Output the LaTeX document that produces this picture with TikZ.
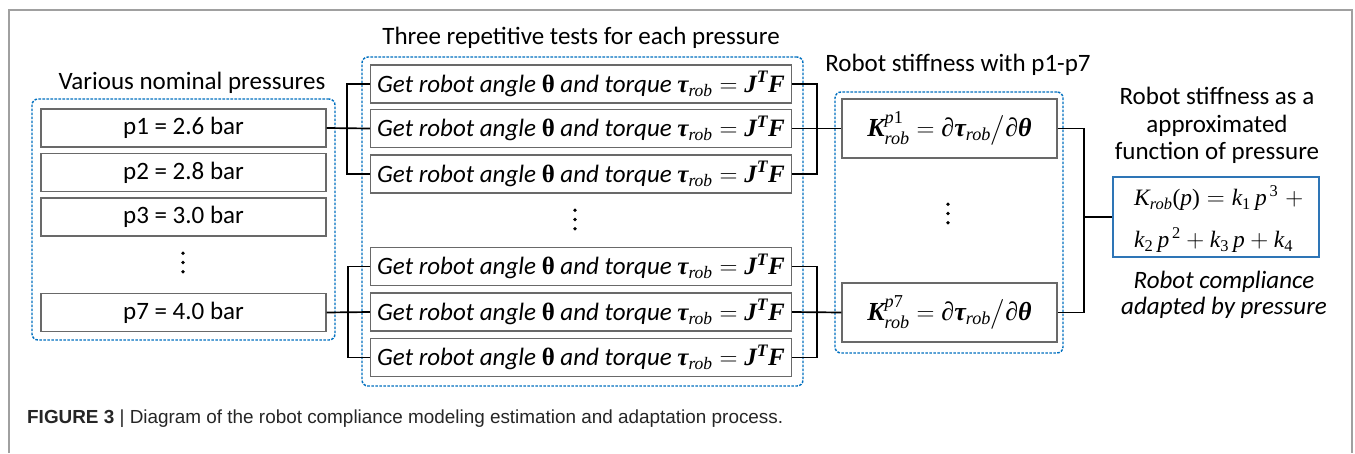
\documentclass[tikz,border=0pt]{standalone}
\usepackage{amsmath}
\usepackage{fontspec}
\setmainfont{Carlito}
\newfontfamily\capfont{Liberation Sans}
\newfontfamily\tnr{Liberation Serif}
\newcommand{\tbi}[1]{\text{\tnr\bfseries\itshape #1}}
\newcommand{\tbu}[1]{\text{\tnr\bfseries\upshape #1}}
\newcommand{\tii}[1]{\text{\tnr\mdseries\itshape #1}}
\newcommand{\trr}[1]{\text{\tnr\mdseries\upshape #1}}
\definecolor{dashblue}{RGB}{0,112,192}
\definecolor{boxblue}{RGB}{46,117,182}
\definecolor{boxgray}{RGB}{105,105,105}
\definecolor{framegray}{RGB}{160,160,160}
\newcommand{\getline}{\itshape Get robot angle \tbu{θ} and torque $\tbi{τ}_{\tii{rob}}=\tbi{J}^{\tbi{T}}\tbi{F}$}
\tikzset{
  x=1pt, y=-1pt,
  big/.style={font=\fontsize{25}{28}\selectfont},
  pbox/.style={draw=boxgray, line width=1.2pt, fill=white, minimum width=285, minimum height=38, inner sep=0pt, big},
  gbox/.style={pbox, minimum width=421},
  kbox/.style={pbox, minimum width=215, minimum height=59, font=\fontsize{26}{28}\selectfont},
  fbox/.style={draw=boxblue, line width=2pt, minimum width=206, minimum height=80, inner sep=0pt},
  grp/.style={draw=dashblue, line width=1.4pt, dash pattern=on 2.6pt off 1.4pt, rounded corners=6pt, inner sep=0pt},
  conn/.style={draw=black, line width=1.7pt},
  lbl/.style={big, inner sep=0pt, align=center},
  dotc/.style={coordinate}
}
\begin{document}
\begin{tikzpicture}
\useasboundingbox (0,0) rectangle (1355,453);
\fill[white] (0,0) rectangle (1355,453);
% outer frame
\draw[framegray, line width=1.5pt] (9,453) -- (9,10) -- (1352,10) -- (1352,453);

% group frames
\node[grp, minimum width=303, minimum height=241] (gL) at (183.5,219.5) {};
\node[grp, minimum width=441, minimum height=329] (gM) at (582.5,221.5) {};
\node[grp, minimum width=228, minimum height=261] (gK) at (949,222.5) {};

% titles
\node[lbl] (tL) at (192,83) {Various nominal pressures};
\node[lbl] (tM) at (581,38) {Three repetitive tests for each pressure};
\node[lbl] (tK) at (958,65) {Robot stiffness with p1-p7};
\node[lbl, font=\fontsize{25}{27.5}\selectfont] (tF) at (1217,125.5) {Robot stiffness as a\\approximated\\function of pressure};
\node[lbl, font=\fontsize{25}{26}\selectfont\itshape] (tC) at (1224,295) {Robot compliance\\adapted by pressure};

% pressure boxes
\node[pbox] (p1) at (183.5,128) {p1 = 2.6 bar};
\node[pbox] (p2) at (183.5,172.5) {p2 = 2.8 bar};
\node[pbox] (p3) at (183.5,217) {p3 = 3.0 bar};
\node[dotc] (pd) at (183,262.5) {};
\node[pbox] (p7) at (183.5,312.5) {p7 = 4.0 bar};

% test boxes
\node[gbox] (b1) at (581,84) {\getline};
\node[gbox] (b2) at (581,128.5) {\getline};
\node[gbox] (b3) at (581,174) {\getline};
\node[dotc] (bd) at (575,219.5) {};
\node[gbox] (b4) at (581,266.5) {\getline};
\node[gbox] (b5) at (581,312) {\getline};
\node[gbox] (b6) at (581,357.5) {\getline};

% stiffness boxes
\node[kbox] (k1) at (949.5,128.5) {$\tbi{K}^{\tii{p}\trr{1}}_{\tii{rob}}=\trr{∂}\tbi{τ}_{\tii{rob}}\big/\trr{∂}\tbi{θ}$};
\node[dotc] (kd) at (948,213.5) {};
\node[kbox] (k7) at (949.5,312.5) {$\tbi{K}^{\tii{p}\trr{7}}_{\tii{rob}}=\trr{∂}\tbi{τ}_{\tii{rob}}\big/\trr{∂}\tbi{θ}$};

% vertical ellipses
\foreach \c in {pd,bd,kd} {
  \foreach \d in {-9.2,0,9.2} \fill (\c) ++(0,\d) circle (1.9);
}

% final box
\node[fbox] (fb) at (1216,217) {};
\node[anchor=west, align=left, inner sep=0pt, font=\fontsize{23.5}{42}\selectfont] (fe) at (1134,219) {$\tii{K}_{\tii{rob}}\trr{(}\tii{p}\trr{)}=\tii{k}_{\trr{1}}\,\tii{p}^{\,\trr{3}}\;+$\\$\tii{k}_{\trr{2}}\,\tii{p}^{\,\trr{2}}+\tii{k}_{\trr{3}}\,\tii{p}+\tii{k}_{\trr{4}}$};

% junctions
\coordinate (j1) at (347,128);
\coordinate (j2) at (348,312);
\coordinate (j3) at (817,128);
\coordinate (j4) at (817,312);
\coordinate (j5) at (1084,217);

% connectors left
\draw[conn] (p1.east) -- (b2.west);
\draw[conn] (b1.west) -- (b1.west -| j1) -- (b3.west -| j1) -- (b3.west);
\draw[conn] (p7.east) -- (b5.west);
\draw[conn] (b4.west) -- (b4.west -| j2) -- (b6.west -| j2) -- (b6.west);
% connectors middle
\draw[conn] (b2.east) -- (k1.west);
\draw[conn] (b1.east) -- (b1.east -| j3) -- (b3.east -| j3) -- (b3.east);
\draw[conn] (b5.east) -- (k7.west);
\draw[conn] (b4.east) -- (b4.east -| j4) -- (b6.east -| j4) -- (b6.east);
% connectors right
\draw[conn] (k1.east) -- (k1.east -| j5) -- (k7.east -| j5) -- (k7.east);
\draw[conn] (j5) -- (fb.west);

% caption
\node[anchor=west, inner sep=0pt, font=\capfont\fontsize{18.9}{21}\selectfont, text=black!85] (cap) at (27,419) {\textbf{FIGURE 3} | Diagram of the robot compliance modeling estimation and adaptation process.};
\end{tikzpicture}
\end{document}
